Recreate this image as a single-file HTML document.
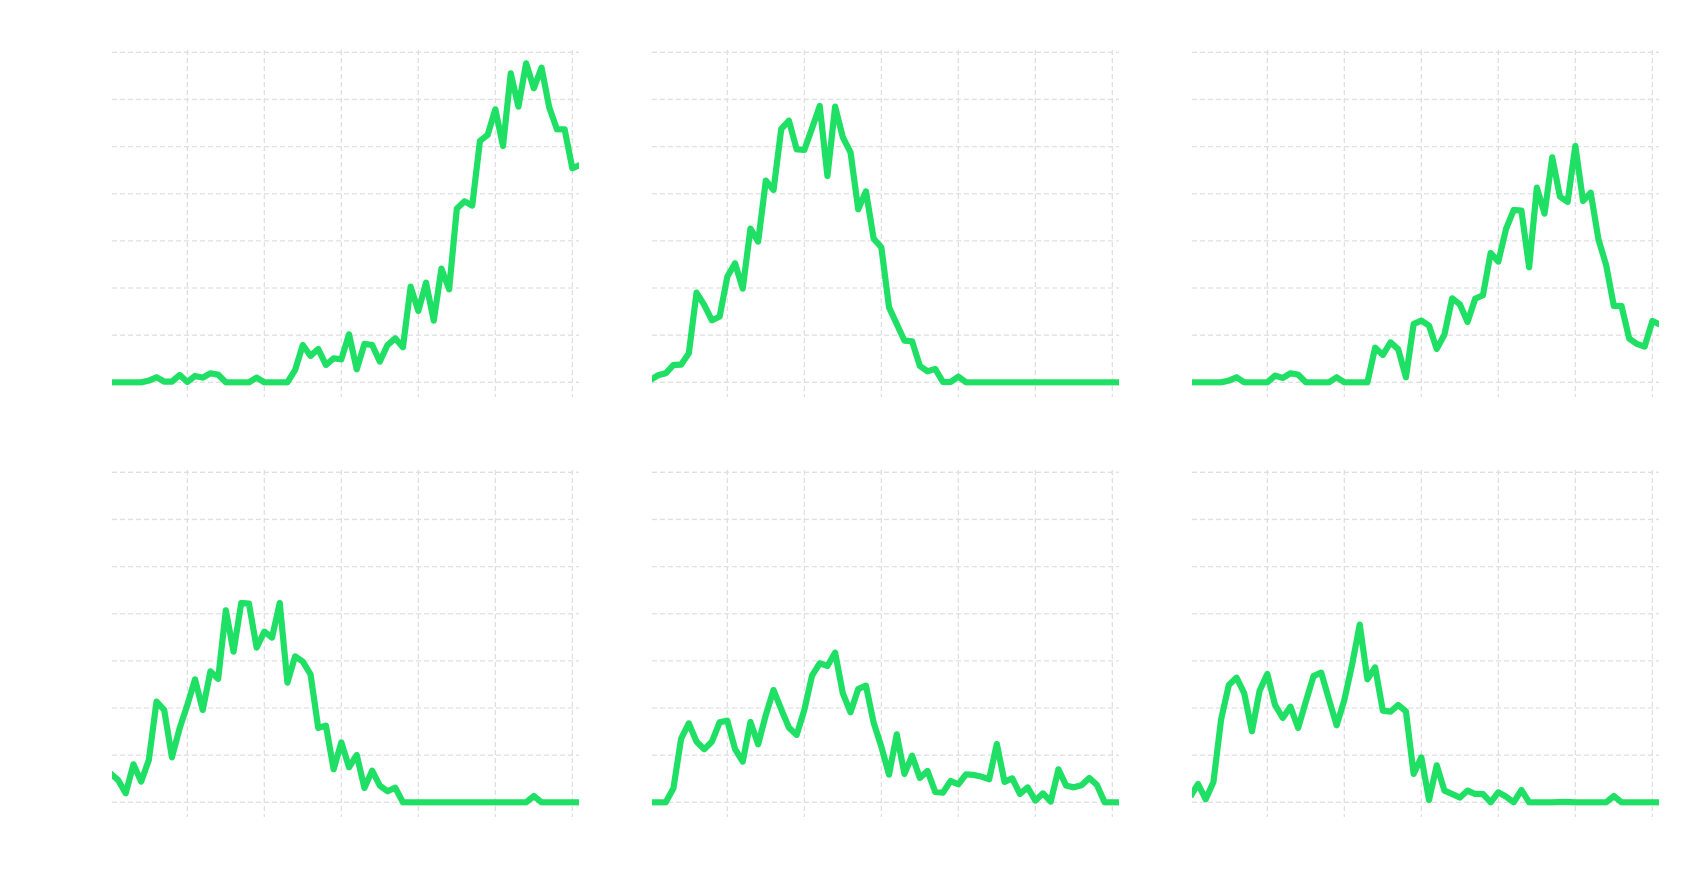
<!DOCTYPE html>
<html lang="en">
<head>
<meta charset="utf-8">
<title>Small multiples line charts</title>
<style>
  html, body { margin: 0; padding: 0; background: #ffffff; }
  #chart-root { display: block; width: 1694px; height: 888px; }
</style>
</head>
<body>
<svg id="chart-root" xmlns="http://www.w3.org/2000/svg" width="1694" height="888" viewBox="0 0 1694 888"></svg>
<script>
const xTicks = [10, 20, 30, 40, 50, 60];
const yTicks = [0, 141.4, 282.9, 424.3, 565.7, 707.1, 848.6, 990];

const seriesTopLeft = [
  0, 0, 0, 0, 0, 5, 15, 2, 2, 22,
  1, 19, 14, 27, 23, 0, 0, 0, 0, 14,
  0, 0, 0, 0, 37, 112, 79, 100, 52, 72,
  69, 144, 39, 115, 112, 62, 112, 132, 105, 287,
  214, 299, 185, 341, 279, 521, 543, 530, 724, 742,
  819, 709, 927, 827, 957, 882, 944, 825, 759, 759,
  642, 652
];
const seriesTopMiddle = [
  7, 21, 27, 52, 53, 87, 269, 232, 186, 197,
  317, 357, 281, 461, 422, 605, 577, 760, 785, 699,
  697, 762, 829, 619, 827, 735, 690, 519, 573, 431,
  405, 225, 175, 125, 123, 49, 33, 40, 1, 1,
  17, 0, 0, 0, 0, 0, 0, 0, 0, 0,
  0, 0, 0, 0, 0, 0, 0, 0, 0, 0,
  0, 0
];
const seriesTopRight = [
  0, 0, 0, 0, 0, 5, 15, 0, 0, 0,
  0, 20, 13, 27, 23, 0, 0, 0, 0, 15,
  0, 0, 0, 0, 104, 82, 120, 99, 15, 175,
  185, 170, 100, 143, 252, 234, 181, 251, 261, 388,
  362, 460, 517, 515, 345, 584, 506, 675, 557, 541,
  709, 544, 569, 429, 352, 229, 229, 131, 115, 107,
  184, 173
];
const seriesBottomLeft = [
  87, 67, 27, 114, 62, 127, 302, 277, 135, 222,
  292, 369, 277, 393, 370, 576, 452, 598, 596, 464,
  512, 494, 598, 359, 438, 422, 384, 223, 230, 99,
  180, 105, 142, 43, 95, 50, 33, 44, 0, 0,
  0, 0, 0, 0, 0, 0, 0, 0, 0, 0,
  0, 0, 0, 0, 0, 19, 0, 0, 0, 0,
  0, 0
];
const seriesBottomMiddle = [
  0, 0, 0, 42, 191, 237, 182, 159, 182, 240,
  245, 160, 122, 241, 174, 262, 337, 279, 224, 202,
  277, 380, 417, 409, 449, 327, 270, 340, 350, 239,
  167, 83, 204, 85, 140, 73, 94, 31, 29, 64,
  54, 84, 82, 77, 69, 175, 61, 72, 25, 45,
  5, 27, 2, 99, 50, 45, 51, 73, 52, 0,
  0, 0
];
const seriesBottomRight = [
  17, 55, 9, 61, 249, 352, 374, 327, 213, 335,
  385, 292, 253, 287, 223, 302, 379, 389, 309, 231,
  307, 412, 533, 369, 405, 275, 272, 292, 273, 85,
  135, 7, 111, 35, 25, 14, 35, 25, 25, 0,
  30, 17, 0, 37, 0, 0, 0, 0, 1, 1,
  0, 0, 0, 0, 0, 19, 0, 0, 0, 0,
  0, 0
];

const panelSeries = [
  seriesTopLeft, seriesTopMiddle, seriesTopRight,
  seriesBottomLeft, seriesBottomMiddle, seriesBottomRight
];
const panelNames = ['top-left', 'top-middle', 'top-right', 'bottom-left', 'bottom-middle', 'bottom-right'];

const NS = 'http://www.w3.org/2000/svg';
const root = document.getElementById('chart-root');
const defs = document.createElementNS(NS, 'defs');
root.appendChild(defs);

const GRID_COLOR = '#e0e0e0';
const LINE_COLOR = '#1fdf64';

function xScale(v, col) {
  return 110.33 + 540 * col + v * (77 / 10);
}
function yScale(v, row) {
  return 382.3 + 420 * row - v * (330 / 990);
}

panelSeries.forEach(function (values, idx) {
  const col = idx % 3;
  const row = Math.floor(idx / 3);
  const left = 112 + 540 * col;
  const right = 579 + 540 * col;

  const group = document.createElementNS(NS, 'g');
  
  
  root.appendChild(group);

  yTicks.forEach(function (t, i) {
    const gl = document.createElementNS(NS, 'line');
    
    
    gl.setAttribute('x1', left);
    gl.setAttribute('x2', right);
    gl.setAttribute('y1', yScale(t, row));
    gl.setAttribute('y2', yScale(t, row));
    gl.setAttribute('stroke', GRID_COLOR);
    gl.setAttribute('stroke-width', '1.3');
    gl.setAttribute('stroke-dasharray', '5 3');
    group.appendChild(gl);
  });

  xTicks.forEach(function (t) {
    const gl = document.createElementNS(NS, 'line');
    
    
    gl.setAttribute('x1', xScale(t, col));
    gl.setAttribute('x2', xScale(t, col));
    gl.setAttribute('y1', 50 + 420 * row);
    gl.setAttribute('y2', 397 + 420 * row);
    gl.setAttribute('stroke', GRID_COLOR);
    gl.setAttribute('stroke-width', '1.3');
    gl.setAttribute('stroke-dasharray', '5 3');
    group.appendChild(gl);
  });

  const clip = document.createElementNS(NS, 'clipPath');
  clip.setAttribute('id', 'clip-' + idx);
  const clipRect = document.createElementNS(NS, 'rect');
  clipRect.setAttribute('x', left);
  clipRect.setAttribute('y', 30 + 420 * row);
  clipRect.setAttribute('width', right - left);
  clipRect.setAttribute('height', 380);
  clip.appendChild(clipRect);
  defs.appendChild(clip);

  const pts = values.map(function (v, i) {
    return xScale(i, col).toFixed(2) + ',' + yScale(v, row).toFixed(2);
  }).join(' ');
  const line = document.createElementNS(NS, 'polyline');
  
  
  line.setAttribute('points', pts);
  line.setAttribute('fill', 'none');
  line.setAttribute('stroke', LINE_COLOR);
  line.setAttribute('stroke-width', '6.2');
  line.setAttribute('stroke-linejoin', 'round');
  line.setAttribute('clip-path', 'url(#clip-' + idx + ')');
  group.appendChild(line);
});
</script>
</body>
</html>
